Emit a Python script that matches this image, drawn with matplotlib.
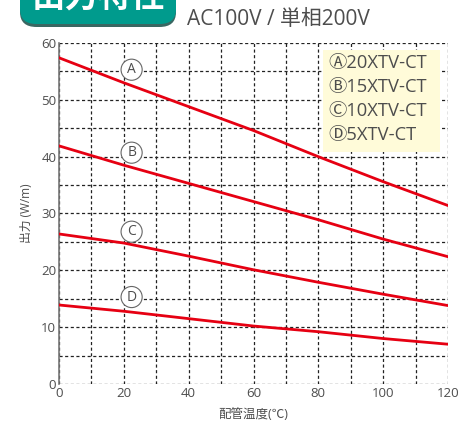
import matplotlib.pyplot as plt
from matplotlib.patches import FancyBboxPatch, Rectangle

plt.rcParams['font.family'] = ['Open Sans', 'Noto Sans CJK JP', 'DejaVu Sans']

# Output curves (W/m) against pipe temperature
temps = [0, 20, 40, 60, 80, 100, 120]
out_a = [57.4, 53.0, 48.8, 44.6, 40.0, 35.6, 31.4]
out_b = [41.9, 38.5, 35.3, 32.1, 28.9, 25.5, 22.4]
out_c = [26.4, 24.8, 22.5, 20.1, 17.9, 15.8, 13.8]
out_d = [13.9, 12.8, 11.5, 10.2, 9.2, 8.0, 7.0]

labels = ['A', 'B', 'C', 'D']
label_x = 22.4
label_y = [55.3, 40.7, 26.8, 15.3]
legend_names = ['Ⓐ20XTV-CT', 'Ⓑ15XTV-CT', 'Ⓒ10XTV-CT', 'Ⓓ5XTV-CT']

text_gray = '#4d4d4d'
red = '#e60012'
teal = '#009b8d'

fig = plt.figure(figsize=(4.72, 4.23), dpi=100)
ax = fig.add_axes([59 / 472, 1 - 384 / 423, 389 / 472, 341 / 423])

for series in [out_a, out_b, out_c, out_d]:
    ax.plot(temps, series, color=red, lw=2.0, zorder=3)

ax.set_xlim(0, 120)
ax.set_ylim(0, 60)
ax.set_xticks(range(0, 121, 20))
ax.set_yticks(range(0, 61, 10))
ax.set_xticks(range(0, 121, 10), minor=True)
ax.set_yticks(range(0, 61, 5), minor=True)
ax.grid(True, which='both', color='#222222', ls=(0, (2.5, 2)), lw=0.9)
ax.tick_params(which='both', length=0, colors=text_gray, labelsize=9.5, pad=2)
for side in ['top', 'right', 'bottom']:
    ax.spines[side].set_visible(False)
ax.spines['left'].set_color('#777777')
ax.spines['left'].set_linestyle((0, (1, 1)))
ax.spines['left'].set_linewidth(1.2)

ax.set_xlabel('配管温度(℃)', fontsize=9, color=text_gray, labelpad=6)
ax.set_ylabel('出力 (W/m)', fontsize=8.5, color=text_gray, labelpad=6)

# circled curve labels
for lab, yy in zip(labels, label_y):
    ax.text(label_x, yy, lab, fontsize=10, color=text_gray, ha='center', va='center',
            zorder=4, bbox=dict(boxstyle='circle,pad=0.22', fc='white', ec='#666666', lw=0.8))

# legend box
ax.add_patch(Rectangle((81.4, 40.8), 36.1, 18.0, fc='#fffbd9', ec='none', zorder=2.5))
for i, name in enumerate(legend_names):
    ax.text(83.0, 56.4 - i * 4.2, name, fontsize=13.2, color=text_gray,
            ha='left', va='center', zorder=4)

# title badge
fig.patches.append(FancyBboxPatch((20 / 472, 1 - 27 / 423), 156 / 472, 60 / 423,
                                  boxstyle='round,pad=0,rounding_size=0.035',
                                  transform=fig.transFigure, fc='#3a6762', ec='none'))
fig.patches.append(FancyBboxPatch((20 / 472, 1 - 24 / 423), 156 / 472, 60 / 423,
                                  boxstyle='round,pad=0,rounding_size=0.035',
                                  transform=fig.transFigure, fc=teal, ec='none'))
fig.text(98 / 472, 1 + 3 / 423, '出力特性', fontsize=24, fontweight='bold', color='white',
         ha='center', va='center', family=['Noto Sans CJK JP'])
fig.text(187 / 472, 1 - 25 / 423, 'AC100V / 単相200V', fontsize=15, color=text_gray,
         ha='left', va='baseline')

fig.savefig('out.png', dpi=100)
